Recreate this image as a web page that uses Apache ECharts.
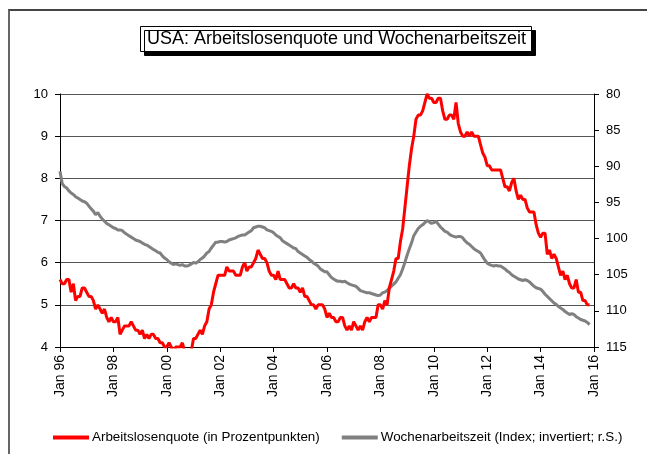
<!DOCTYPE html>
<html>
<head>
<meta charset="utf-8">
<script src="https://cdn.jsdelivr.net/npm/echarts@6/dist/echarts.min.js"></script>
<style>
  html, body { margin: 0; padding: 0; background: #fff; }
  #wrap { position: relative; width: 647px; height: 454px; }
  #chart { width: 647px; height: 454px; }
  #frame { position: absolute; left: 8px; top: 9px; right: 0; bottom: 0;
           border-left: 2px solid #666; border-top: 2px solid #444; pointer-events: none; }
</style>
</head>
<body>
<div id="wrap">
  <div id="chart"></div>
  <div id="frame"></div>
</div>
<script>
// Arbeitslosenquote USA, monatlich Jan 1996 - Nov 2015 (in %)
var unemp1996 = [5.6, 5.5, 5.5, 5.6, 5.6, 5.3, 5.5, 5.1, 5.2, 5.2, 5.4, 5.4];
var unemp1997 = [5.3, 5.2, 5.2, 5.1, 4.9, 5.0, 4.9, 4.8, 4.9, 4.7, 4.6, 4.7];
var unemp1998 = [4.6, 4.6, 4.7, 4.3, 4.4, 4.5, 4.5, 4.5, 4.6, 4.5, 4.4, 4.4];
var unemp1999 = [4.3, 4.4, 4.2, 4.3, 4.2, 4.3, 4.3, 4.2, 4.2, 4.1, 4.1, 4.0];
var unemp2000 = [4.0, 4.1, 4.0, 3.8, 4.0, 4.0, 4.0, 4.1, 3.9, 3.9, 3.9, 3.9];
var unemp2001 = [4.2, 4.2, 4.3, 4.4, 4.3, 4.5, 4.6, 4.9, 5.0, 5.3, 5.5, 5.7];
var unemp2002 = [5.7, 5.7, 5.7, 5.9, 5.8, 5.8, 5.8, 5.7, 5.7, 5.7, 5.9, 6.0];
var unemp2003 = [5.8, 5.9, 5.9, 6.0, 6.1, 6.3, 6.2, 6.1, 6.1, 6.0, 5.8, 5.7];
var unemp2004 = [5.7, 5.6, 5.8, 5.6, 5.6, 5.6, 5.5, 5.4, 5.4, 5.5, 5.4, 5.4];
var unemp2005 = [5.3, 5.4, 5.2, 5.2, 5.1, 5.0, 5.0, 4.9, 5.0, 5.0, 5.0, 4.9];
var unemp2006 = [4.7, 4.8, 4.7, 4.7, 4.6, 4.6, 4.7, 4.7, 4.5, 4.4, 4.5, 4.4];
var unemp2007 = [4.6, 4.5, 4.4, 4.5, 4.4, 4.6, 4.7, 4.6, 4.7, 4.7, 4.7, 5.0];
var unemp2008 = [5.0, 4.9, 5.1, 5.0, 5.4, 5.6, 5.8, 6.1, 6.1, 6.5, 6.8, 7.3];
var unemp2009 = [7.8, 8.3, 8.7, 9.0, 9.4, 9.5, 9.5, 9.6, 9.8, 10.0, 9.9, 9.9];
var unemp2010 = [9.8, 9.8, 9.9, 9.9, 9.6, 9.4, 9.4, 9.5, 9.5, 9.4, 9.8, 9.3];
var unemp2011 = [9.1, 9.0, 9.0, 9.1, 9.0, 9.1, 9.0, 9.0, 9.0, 8.8, 8.6, 8.5];
var unemp2012 = [8.3, 8.3, 8.2, 8.2, 8.2, 8.2, 8.2, 8.0, 7.8, 7.8, 7.7, 7.9];
var unemp2013 = [8.0, 7.7, 7.5, 7.6, 7.5, 7.5, 7.3, 7.2, 7.2, 7.2, 6.9, 6.7];
var unemp2014 = [6.6, 6.7, 6.7, 6.2, 6.3, 6.1, 6.2, 6.1, 5.9, 5.7, 5.8, 5.6];
var unemp2015 = [5.7, 5.5, 5.4, 5.4, 5.6, 5.3, 5.3, 5.1, 5.1, 5.0, 5.0];

// Wochenarbeitszeit (Index), monatlich Jan 1996 - Nov 2015
var hours1996 = [90.7, 92.4, 92.8, 93.0, 93.4, 93.7, 93.9, 94.2, 94.4, 94.6, 94.8, 94.9];
var hours1997 = [95.1, 95.5, 95.9, 96.2, 96.7, 96.4, 96.9, 97.3, 97.6, 97.9, 98.1, 98.3];
var hours1998 = [98.5, 98.6, 98.8, 98.8, 98.9, 99.2, 99.4, 99.6, 99.8, 100.0, 100.2, 100.3];
var hours1999 = [100.4, 100.6, 100.8, 100.9, 101.1, 101.3, 101.5, 101.7, 101.9, 102.0, 102.4, 102.7];
var hours2000 = [102.9, 103.2, 103.4, 103.6, 103.5, 103.6, 103.7, 103.6, 103.8, 103.8, 103.7, 103.5];
var hours2001 = [103.3, 103.4, 103.2, 102.9, 102.7, 102.4, 102.0, 101.8, 101.3, 100.9, 100.5, 100.5];
var hours2002 = [100.4, 100.4, 100.5, 100.4, 100.2, 100.1, 100.0, 99.9, 99.7, 99.6, 99.5, 99.5];
var hours2003 = [99.3, 99.1, 98.9, 98.5, 98.4, 98.3, 98.3, 98.4, 98.5, 98.8, 98.9, 99.0];
var hours2004 = [99.2, 99.5, 99.7, 99.9, 100.3, 100.5, 100.7, 100.9, 101.1, 101.3, 101.4, 101.8];
var hours2005 = [102.0, 102.2, 102.4, 102.6, 102.9, 103.1, 103.4, 103.6, 103.8, 104.2, 104.4, 104.6];
var hours2006 = [104.6, 105.0, 105.4, 105.6, 105.8, 105.9, 105.9, 106.0, 105.9, 106.1, 106.3, 106.4];
var hours2007 = [106.5, 106.6, 106.9, 107.2, 107.3, 107.4, 107.5, 107.5, 107.6, 107.7, 107.8, 107.9];
var hours2008 = [107.8, 107.5, 107.4, 107.2, 106.9, 106.6, 106.3, 106.0, 105.5, 105.0, 104.2, 103.3];
var hours2009 = [102.3, 101.4, 100.6, 99.6, 99.1, 98.6, 98.3, 98.1, 97.8, 97.5, 97.7, 97.9];
var hours2010 = [97.8, 97.6, 98.0, 98.4, 98.7, 99.0, 99.1, 99.4, 99.6, 99.7, 99.8, 99.7];
var hours2011 = [99.7, 99.9, 100.3, 100.6, 100.8, 101.1, 101.4, 101.6, 101.8, 102.0, 102.5, 103.0];
var hours2012 = [103.4, 103.6, 103.7, 103.8, 103.7, 103.8, 103.8, 104.0, 104.2, 104.5, 104.7, 105.0];
var hours2013 = [105.2, 105.4, 105.6, 105.7, 105.8, 105.7, 105.8, 106.0, 106.3, 106.6, 106.8, 106.9];
var hours2014 = [107.0, 107.3, 107.7, 108.0, 108.3, 108.6, 108.9, 109.1, 109.4, 109.6, 109.8, 110.1];
var hours2015 = [110.3, 110.5, 110.4, 110.5, 110.8, 111.0, 111.2, 111.3, 111.4, 111.6, 111.9];

var monthNames = ['Jan', 'Feb', 'Mrz', 'Apr', 'Mai', 'Jun', 'Jul', 'Aug', 'Sep', 'Okt', 'Nov', 'Dez'];
var leftTicks = [4, 10, 1];      // min, max, interval
var rightTicks = [80, 115, 5];   // min, max, interval (invertiert)

var unemp = [].concat(unemp1996, unemp1997, unemp1998, unemp1999, unemp2000, unemp2001,
  unemp2002, unemp2003, unemp2004, unemp2005, unemp2006, unemp2007, unemp2008, unemp2009,
  unemp2010, unemp2011, unemp2012, unemp2013, unemp2014, unemp2015);
var hours = [].concat(hours1996, hours1997, hours1998, hours1999, hours2000, hours2001,
  hours2002, hours2003, hours2004, hours2005, hours2006, hours2007, hours2008, hours2009,
  hours2010, hours2011, hours2012, hours2013, hours2014, hours2015);

// Monatskategorien Jan 96 .. Jan 16
var months = [];
for (var y = 1996; y <= 2016; y++) {
  for (var m = 0; m < 12; m++) {
    if (y === 2016 && m > 0) break;
    months.push(monthNames[m] + ' ' + String(y).slice(2));
  }
}

var font = 'Liberation Sans, Arial, sans-serif';
var everyTwoYears = function (i) { return i % 24 === 0; };

var myChart = echarts.init(document.getElementById('chart'));
var option = {
  animation: false,
  backgroundColor: '#fff',
  textStyle: { fontFamily: font, color: '#000' },
  title: {
    text: 'USA: Arbeitslosenquote und Wochenarbeitszeit',
    left: 140,
    top: 26,
    padding: [4, 6, 4, 7],
    backgroundColor: '#fff',
    borderColor: '#000',
    borderWidth: 1,
    shadowColor: '#000',
    shadowOffsetX: 4,
    shadowOffsetY: 4,
    shadowBlur: 0,
    textStyle: { fontFamily: font, fontSize: 18, fontWeight: 'normal', color: '#000' }
  },
  legend: {
    left: 48,
    top: 426,
    itemGap: 22,
    itemWidth: 36,
    itemHeight: 4,
    icon: 'rect',
    textStyle: { fontFamily: font, fontSize: 13.4, color: '#000', padding: [0, 0, 0, -2] },
    data: ['Arbeitslosenquote (in Prozentpunkten)', 'Wochenarbeitszeit (Index; invertiert; r.S.)']
  },
  grid: { left: 60, right: 53, top: 94, bottom: 107, containLabel: false },
  xAxis: {
    type: 'category',
    boundaryGap: false,
    data: months,
    axisLine: { show: true, lineStyle: { color: '#000', width: 1 } },
    axisTick: { show: true, interval: everyTwoYears, length: 5, lineStyle: { color: '#000' } },
    axisLabel: {
      interval: everyTwoYears, rotate: 90, margin: 8,
      fontFamily: font, fontSize: 14, color: '#000'
    },
    splitLine: { show: false }
  },
  yAxis: [
    {
      type: 'value',
      min: leftTicks[0], max: leftTicks[1], interval: leftTicks[2],
      axisLine: { show: true, lineStyle: { color: '#000', width: 1 } },
      axisTick: { show: true, length: 5, lineStyle: { color: '#000' } },
      axisLabel: { margin: 12, fontFamily: font, fontSize: 13, color: '#000' },
      splitLine: { show: true, lineStyle: { color: '#555', width: 1 } }
    },
    {
      type: 'value',
      inverse: true,
      min: rightTicks[0], max: rightTicks[1], interval: rightTicks[2],
      axisLine: { show: true, lineStyle: { color: '#000', width: 1 } },
      axisTick: { show: true, length: 5, lineStyle: { color: '#000' } },
      axisLabel: { margin: 12, fontFamily: font, fontSize: 13, color: '#000' },
      splitLine: { show: false }
    }
  ],
  series: [
    {
      name: 'Wochenarbeitszeit (Index; invertiert; r.S.)',
      type: 'line',
      yAxisIndex: 1,
      data: hours,
      symbol: 'none',
      z: 2,
      lineStyle: { color: '#808080', width: 3 },
      itemStyle: { color: '#808080' }
    },
    {
      name: 'Arbeitslosenquote (in Prozentpunkten)',
      type: 'line',
      yAxisIndex: 0,
      data: unemp,
      symbol: 'none',
      clip: true,
      z: 3,
      lineStyle: { color: '#ff0000', width: 3 },
      itemStyle: { color: '#ff0000' }
    }
  ]
};
myChart.setOption(option);
</script>
</body>
</html>
